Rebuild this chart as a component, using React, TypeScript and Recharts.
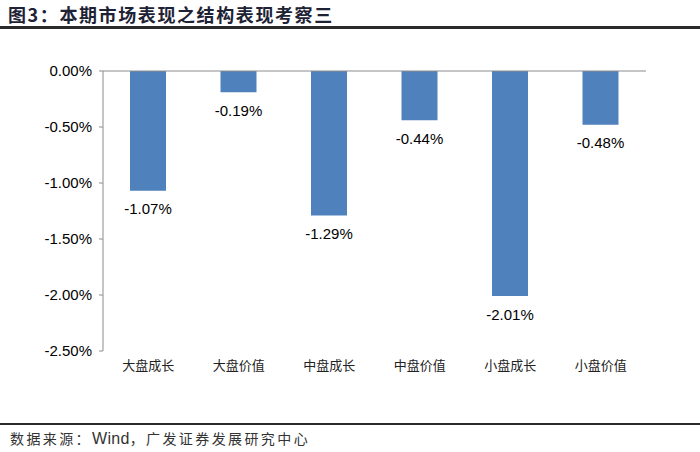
import React from 'react';
import { BarChart, Bar, XAxis, YAxis, LabelList, ReferenceLine } from 'recharts';

const categories = ['大盘成长', '大盘价值', '中盘成长', '中盘价值', '小盘成长', '小盘价值'];
const returns = [-1.07, -0.19, -1.29, -0.44, -2.01, -0.48];
const yTicks = [0, -0.5, -1, -1.5, -2, -2.5];
const boundaryTicks = [0, 1, 2, 3, 4, 5, 6];

const data = categories.map((name, i) => ({ name, value: returns[i] }));

const fmt = (v: number) => `${v.toFixed(2)}%`;

const BarLabel = (props: any) => {
  const { x, y, width, height, value } = props;
  const bottom = Math.max(y, y + height);
  return (
    <text
      x={x + width / 2}
      y={bottom + 18}
      textAnchor="middle"
      dominantBaseline="central"
      fontSize={15}
      fontFamily="Liberation Sans, Arial, sans-serif"
      fill="#000"
    >
      {fmt(value)}
    </text>
  );
};

export default function App() {
  return (
    <div
      style={{
        position: 'absolute',
        left: 0,
        top: 0,
        width: 700,
        height: 452,
        background: '#fff',
        fontFamily: '"Noto Sans CJK SC", sans-serif',
      }}
    >
      <div
        style={{
          position: 'absolute',
          left: 8,
          top: 2,
          fontSize: 18,
          letterSpacing: 1.6,
          fontWeight: 'bold',
          color: '#1e2235',
          lineHeight: '24px',
          whiteSpace: 'nowrap',
        }}
      >
        图3：本期市场表现之结构表现考察三
      </div>
      <div style={{ position: 'absolute', left: 0, top: 26, width: 700, height: 3, background: '#2a2a2a' }} />

      <div style={{ position: 'absolute', left: 0, top: 0 }}>
        <BarChart
          width={700}
          height={452}
          data={data}
          margin={{ top: 71, right: 54, bottom: 71, left: 0 }}
        >
          <XAxis
            xAxisId="cat"
            dataKey="name"
            orientation="bottom"
            height={30}
            axisLine={false}
            tickLine={false}
            tickSize={0}
            tickMargin={10}
            interval={0}
            tick={{ fontSize: 13, fill: '#222', fontFamily: '"Noto Sans CJK SC", sans-serif' }}
          />
          <XAxis
            xAxisId="edge"
            type="number"
            orientation="top"
            height={0}
            domain={[0, 6]}
            ticks={boundaryTicks}
            allowDataOverflow
            mirror
            tickSize={4}
            tickFormatter={() => ''}
            axisLine={{ stroke: '#8c8c8c' }}
            tickLine={{ stroke: '#8c8c8c' }}
          />
          <YAxis
            width={103}
            domain={[-2.5, 0]}
            ticks={yTicks}
            tickFormatter={fmt}
            tickSize={4}
            tickMargin={7}
            axisLine={{ stroke: '#8c8c8c' }}
            tickLine={{ stroke: '#8c8c8c' }}
            tick={{ fontSize: 15, fill: '#000', fontFamily: 'Liberation Sans, Arial, sans-serif' }}
          />
          <Bar xAxisId="cat" dataKey="value" fill="#4f81bd" barSize={36} isAnimationActive={false}>
            <LabelList dataKey="value" content={BarLabel} />
          </Bar>
          <ReferenceLine xAxisId="cat" y={0} stroke="#8c8c8c" />
        </BarChart>
      </div>

      <div style={{ position: 'absolute', left: 0, top: 423, width: 700, height: 2, background: '#2a2a2a' }} />
      <div
        style={{
          position: 'absolute',
          left: 10,
          top: 428,
          fontSize: 14,
          letterSpacing: 2.4,
          color: '#333',
          lineHeight: '20px',
          whiteSpace: 'nowrap',
        }}
      >
        数据来源：<span style={{ fontFamily: 'Liberation Sans, Arial, sans-serif', fontSize: 16, letterSpacing: 0.3 }}>Wind</span>，广发证券发展研究中心
      </div>
    </div>
  );
}
